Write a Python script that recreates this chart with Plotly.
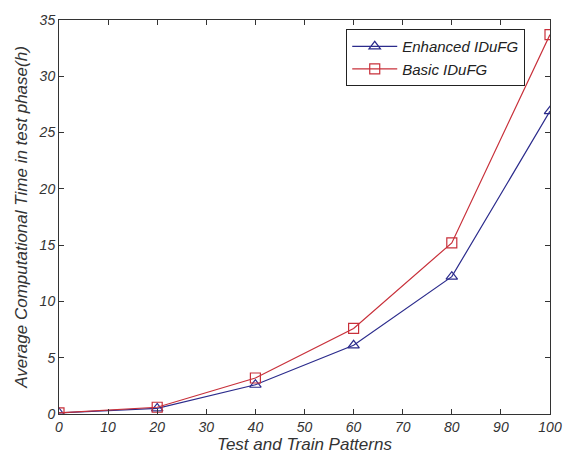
import plotly.graph_objects as go

patterns = [0, 20, 40, 60, 80, 100]
enhanced = [0.1, 0.5, 2.6, 6.1, 12.2, 26.9]
basic = [0.1, 0.6, 3.2, 7.6, 15.2, 33.7]
x_ticks = [0, 10, 20, 30, 40, 50, 60, 70, 80, 90, 100]
y_ticks = [0, 5, 10, 15, 20, 25, 30, 35]

font_family = "Liberation Sans, Arial, sans-serif"

fig = go.Figure()
fig.add_trace(go.Scatter(
    x=patterns, y=enhanced, name="Enhanced IDuFG", mode="lines+markers",
    line=dict(color="#2b2b8c", width=1.2),
    marker=dict(symbol="triangle-up-open", size=10, color="#2b2b8c", line=dict(width=1.2)),
))
fig.add_trace(go.Scatter(
    x=patterns, y=basic, name="Basic IDuFG", mode="lines+markers",
    line=dict(color="#c8303a", width=1.2),
    marker=dict(symbol="square-open", size=10, color="#c8303a", line=dict(width=1.2)),
))

axis_common = dict(
    showgrid=False, zeroline=False, showline=True, linecolor="#333333", linewidth=1,
    mirror="ticks", ticks="inside", ticklen=5, tickcolor="#333333",
    tickfont=dict(family=font_family, size=14, color="#333333", style="italic"),
)

fig.update_layout(
    width=574, height=462,
    margin=dict(l=59, r=17, t=15, b=48),
    paper_bgcolor="white", plot_bgcolor="white",
    showlegend=True,
    legend=dict(
        x=0.585, y=0.977, xanchor="left", yanchor="top",
        bordercolor="#222222", borderwidth=1, bgcolor="white",
        font=dict(family=font_family, size=15, color="#222222", style="italic"),
        tracegroupgap=0, itemwidth=45,
    ),
    xaxis=dict(
        range=[0, 100], tickvals=x_ticks,
        title=dict(text="Test and Train Patterns", standoff=2,
                   font=dict(family=font_family, size=17, color="#333333", style="italic")),
        **axis_common,
    ),
    yaxis=dict(
        range=[0, 35], tickvals=y_ticks,
        title=dict(text="Average Computational Time in test phase(h)", standoff=6,
                   font=dict(family=font_family, size=17, color="#333333", style="italic")),
        **axis_common,
    ),
)

fig.write_html("out.html")
